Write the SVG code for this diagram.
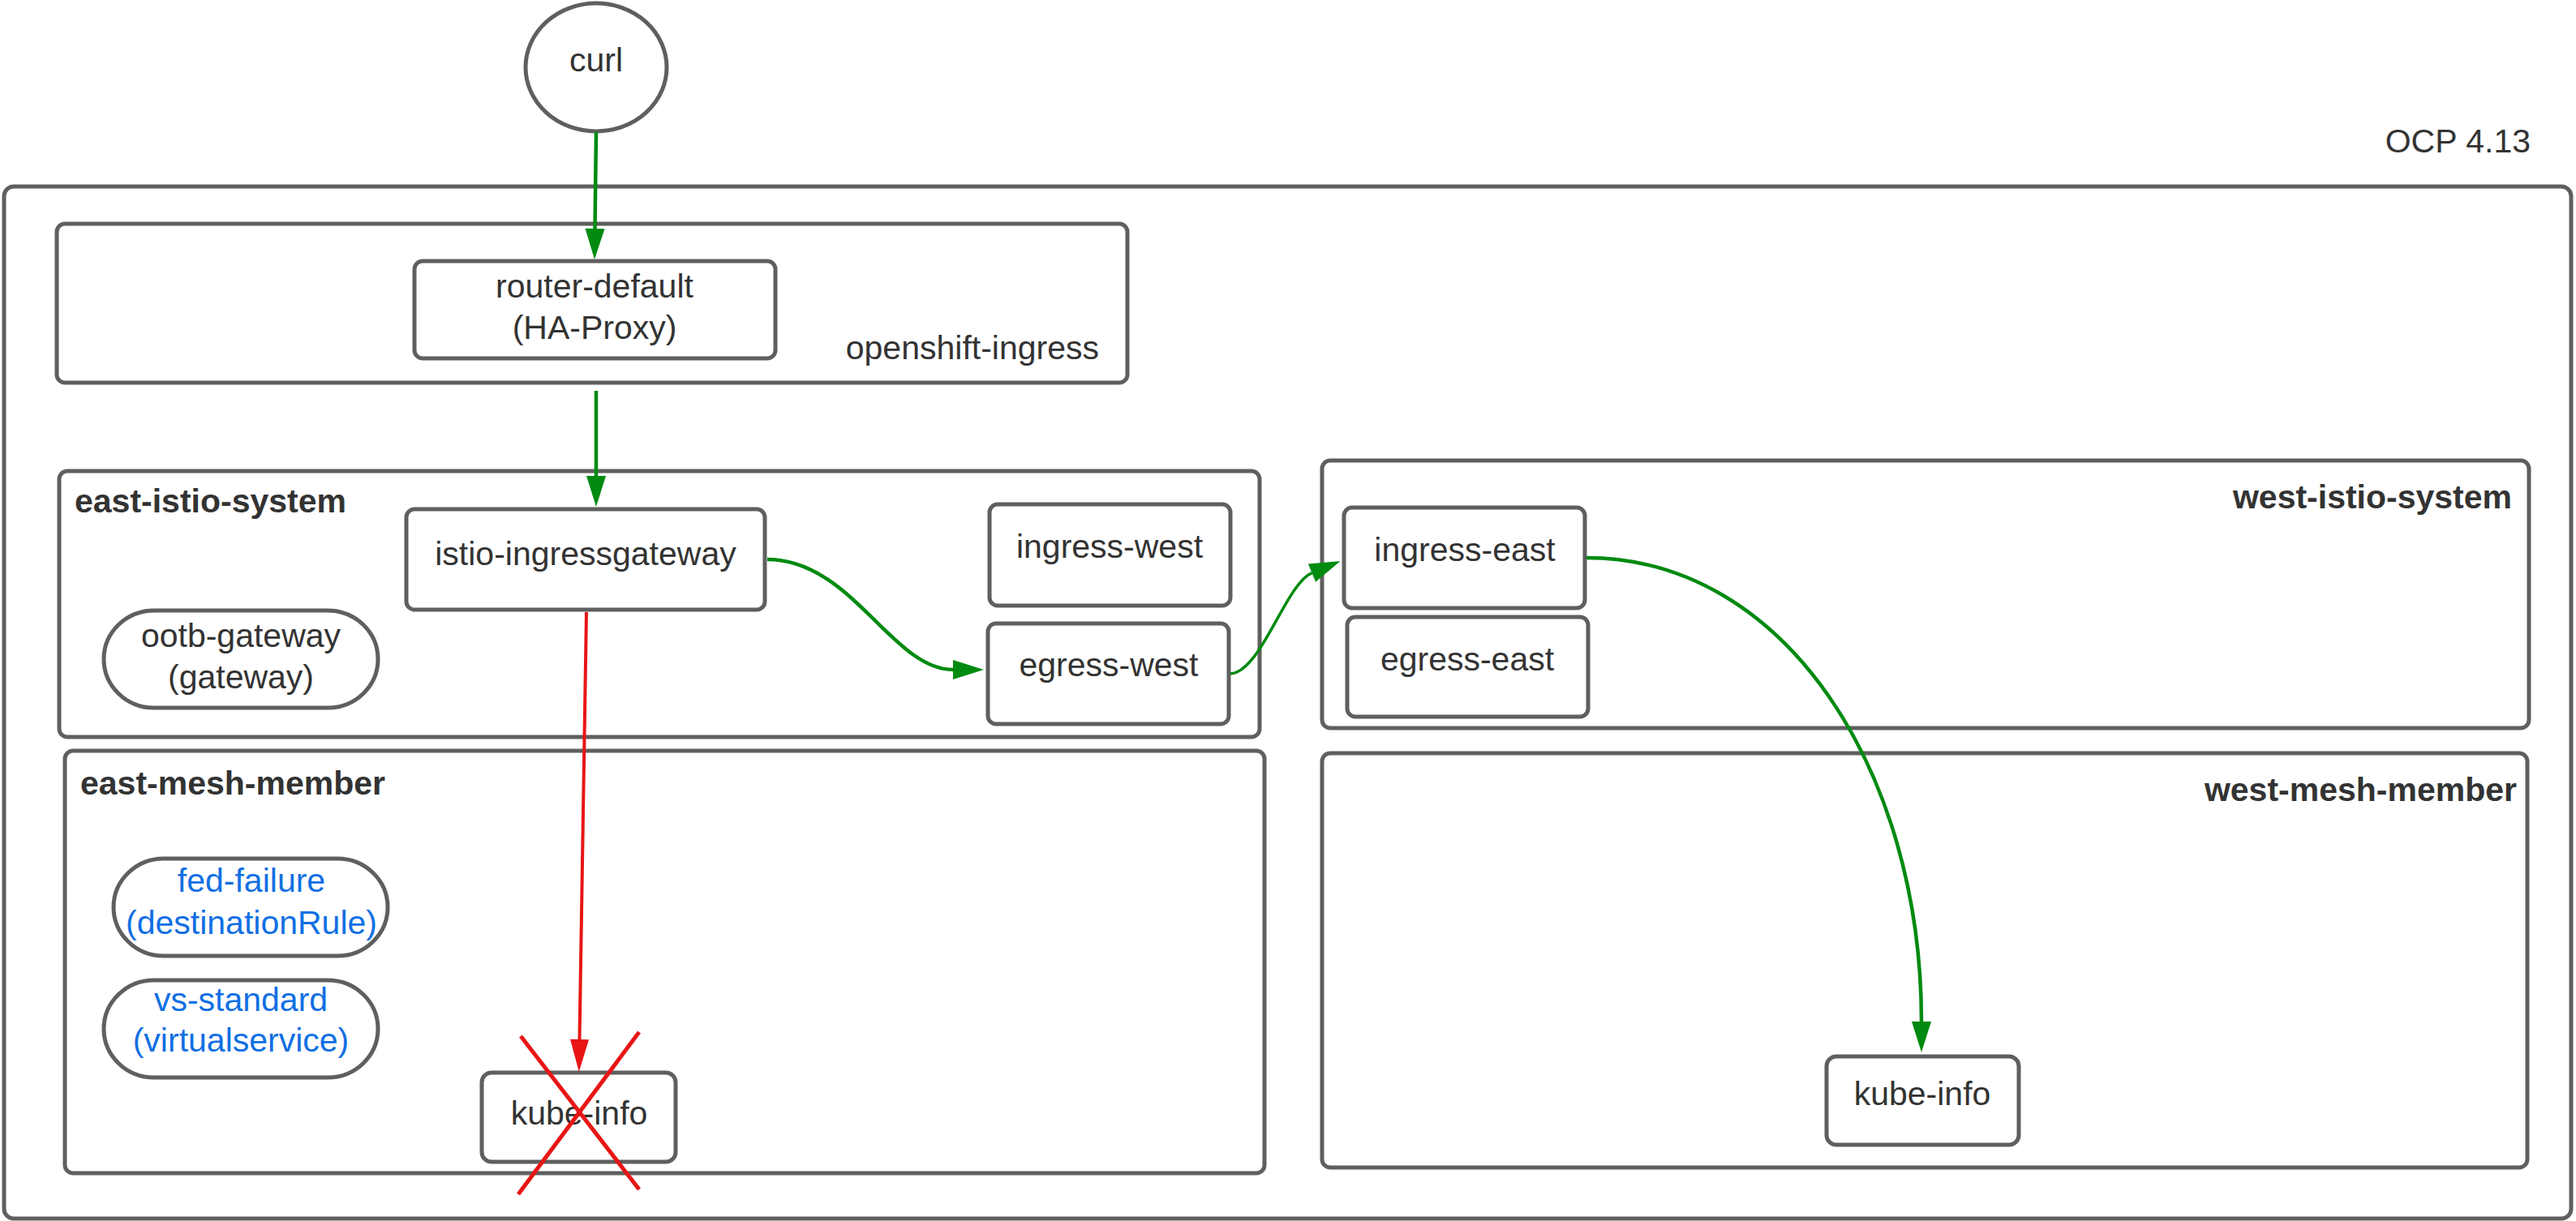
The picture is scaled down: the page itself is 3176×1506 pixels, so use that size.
<svg xmlns="http://www.w3.org/2000/svg" width="3176" height="1506" viewBox="0 0 3176 1506">
  <style>
    .box { fill: #ffffff; stroke: #5f5f5f; stroke-width: 5; }
    .t { font-family: "Liberation Sans", Arial, sans-serif; font-size: 41px; fill: #333333; }
    .c { text-anchor: middle; }
    .e { text-anchor: end; }
    .b { font-weight: bold; }
    .blue { fill: #116fe3; }
    .g { fill: none; stroke: #008a10; stroke-width: 4.5; }
    .g2 { fill: none; stroke: #008a10; stroke-width: 3.5; }
    .r { fill: none; stroke: #e81515; stroke-width: 4; }
    .x { stroke: #e81515; stroke-width: 5; }
  </style>
  <defs>
    <marker id="ag" markerUnits="userSpaceOnUse" markerWidth="40" markerHeight="26" refX="0" refY="12" orient="auto" overflow="visible">
      <path d="M0,0 L38,12 L0,24 Z" fill="#008a10"/>
    </marker>
    <marker id="ar" markerUnits="userSpaceOnUse" markerWidth="42" markerHeight="26" refX="0" refY="11.5" orient="auto" overflow="visible">
      <path d="M0,0 L40,11.5 L0,23 Z" fill="#e81515"/>
    </marker>
  </defs>
  <rect width="3176" height="1506" fill="#ffffff"/>

  <g id="ocp">
    <rect class="box" x="5" y="230" width="3165" height="1273" rx="12"/>
    <text class="t e" x="3120" y="188">OCP 4.13</text>
  </g>

  <g id="curl">
    <ellipse class="box" cx="735" cy="83" rx="87" ry="79"/>
    <text class="t c" x="735" y="88">curl</text>
  </g>

  <g id="openshift-ingress">
    <rect class="box" x="70" y="276" width="1320" height="196" rx="10"/>
    <text class="t e" x="1355" y="443">openshift-ingress</text>
  </g>

  <g id="router-default">
    <rect class="box" x="511" y="322" width="445" height="120" rx="10"/>
    <text class="t c" x="733" y="367">router-default</text>
    <text class="t c" x="733" y="418">(HA-Proxy)</text>
  </g>

  <g id="east-istio-system">
    <rect class="box" x="73" y="581" width="1480" height="328" rx="10"/>
    <text class="t b" x="92" y="632">east-istio-system</text>
  </g>

  <g id="east-mesh-member">
    <rect class="box" x="80" y="926" width="1479" height="521" rx="10"/>
    <text class="t b" x="99" y="980">east-mesh-member</text>
  </g>

  <g id="west-istio-system">
    <rect class="box" x="1630" y="568" width="1488" height="330" rx="10"/>
    <text class="t b e" x="3097" y="627">west-istio-system</text>
  </g>

  <g id="west-mesh-member">
    <rect class="box" x="1630" y="929" width="1486" height="511" rx="10"/>
    <text class="t b e" x="3103" y="988">west-mesh-member</text>
  </g>

  <g id="istio-ingressgateway">
    <rect class="box" x="501" y="628" width="442" height="124" rx="10"/>
    <text class="t c" x="722" y="697">istio-ingressgateway</text>
  </g>

  <g id="ingress-west">
    <rect class="box" x="1220" y="622" width="297" height="125" rx="10"/>
    <text class="t c" x="1368" y="688">ingress-west</text>
  </g>

  <g id="egress-west">
    <rect class="box" x="1218" y="769" width="297" height="124" rx="10"/>
    <text class="t c" x="1367" y="834">egress-west</text>
  </g>

  <g id="ootb-gateway">
    <rect class="box" x="128" y="753" width="338" height="120" rx="62" ry="60"/>
    <text class="t c" x="297" y="798">ootb-gateway</text>
    <text class="t c" x="297" y="849">(gateway)</text>
  </g>

  <g id="fed-failure">
    <rect class="box" x="140" y="1059" width="338" height="120" rx="62" ry="60"/>
    <text class="t c blue" x="310" y="1100">fed-failure</text>
    <text class="t c blue" x="310" y="1152">(destinationRule)</text>
  </g>

  <g id="vs-standard">
    <rect class="box" x="128" y="1209" width="338" height="120" rx="62" ry="60"/>
    <text class="t c blue" x="297" y="1247">vs-standard</text>
    <text class="t c blue" x="297" y="1297">(virtualservice)</text>
  </g>

  <g id="kube-info-east">
    <rect class="box" x="594" y="1323" width="239" height="110" rx="12"/>
    <text class="t c" x="714" y="1387">kube-info</text>
  </g>

  <g id="ingress-east">
    <rect class="box" x="1657" y="626" width="297" height="124" rx="10"/>
    <text class="t c" x="1806" y="692">ingress-east</text>
  </g>

  <g id="egress-east">
    <rect class="box" x="1661" y="761" width="297" height="123" rx="10"/>
    <text class="t c" x="1809" y="827">egress-east</text>
  </g>

  <g id="kube-info-west">
    <rect class="box" x="2252" y="1303" width="237" height="109" rx="12"/>
    <text class="t c" x="2370" y="1363">kube-info</text>
  </g>

  <g id="connectors">
    <path class="g" d="M735,163 L733.5,282" marker-end="url(#ag)"/>
    <path class="g" d="M735,482 L735,587" marker-end="url(#ag)"/>
    <path class="g" d="M946,690 C1050,690 1100,826 1175,826" marker-end="url(#ag)"/>
    <path class="g2" d="M1517,831 C1555,829 1585,720 1617.5,706.6" marker-end="url(#ag)"/>
    <path class="g" d="M1956,688 C2200,688 2369,950 2369,1260" marker-end="url(#ag)"/>
    <path class="r" d="M723,755 L714.5,1282" marker-end="url(#ar)"/>
  </g>

  <g id="failure-mark">
    <line class="x" x1="642" y1="1278" x2="788" y2="1467"/>
    <line class="x" x1="788" y1="1273" x2="639" y2="1473"/>
  </g>
</svg>
